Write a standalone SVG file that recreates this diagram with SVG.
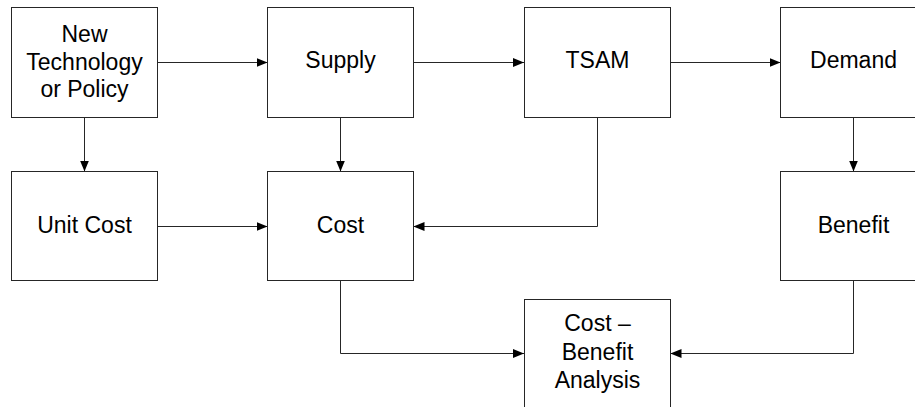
<svg xmlns="http://www.w3.org/2000/svg" width="915" height="407" viewBox="0 0 915 407">
  <defs>
    <marker id="arrow" viewBox="0 0 11 9" refX="11" refY="4.5" markerWidth="11" markerHeight="9" markerUnits="userSpaceOnUse" orient="auto">
      <path d="M0,0 L11,4.5 L0,9 Z" fill="#000"/>
    </marker>
    <style>
      .box { fill: #fff; stroke: #262626; stroke-width: 1; }
      .lbl { font-family: "Liberation Sans", Arial, sans-serif; font-size: 23px; fill: #000; text-anchor: middle; }
      .conn { fill: none; stroke: #262626; stroke-width: 1; marker-end: url(#arrow); }
    </style>
  </defs>
  <rect width="915" height="407" fill="#fff"/>

  <!-- connectors -->
  <g id="connectors">
    <path class="conn" d="M157.5,62.5 H267.5"/>
    <path class="conn" d="M413.5,62.5 H524"/>
    <path class="conn" d="M670.5,62.5 H780.5"/>
    <path class="conn" d="M84.5,117.5 V171.5"/>
    <path class="conn" d="M340.5,117.5 V171.5"/>
    <path class="conn" d="M853.5,117.5 V171.5"/>
    <path class="conn" d="M157.5,226.5 H267.5"/>
    <path class="conn" d="M597.5,117.5 V226.5 H413.5"/>
    <path class="conn" d="M340.5,280.5 V353.5 H524"/>
    <path class="conn" d="M853.5,280.5 V353.5 H670.5"/>
  </g>

  <g id="new-technology">
    <rect class="box" x="11.5" y="7.5" width="146" height="110"/>
    <text class="lbl" x="84.5" y="42">New</text>
    <text class="lbl" x="84.5" y="69.5">Technology</text>
    <text class="lbl" x="84.5" y="97">or Policy</text>
  </g>
  <g id="supply">
    <rect class="box" x="267.5" y="7.5" width="146" height="110"/>
    <text class="lbl" x="340.5" y="68">Supply</text>
  </g>
  <g id="tsam">
    <rect class="box" x="524.5" y="7.5" width="146" height="110"/>
    <text class="lbl" x="597.5" y="68">TSAM</text>
  </g>
  <g id="demand">
    <rect class="box" x="780.5" y="7.5" width="146" height="110"/>
    <text class="lbl" x="853.5" y="68">Demand</text>
  </g>
  <g id="unit-cost">
    <rect class="box" x="11.5" y="171.5" width="146" height="109"/>
    <text class="lbl" x="84.5" y="232.5">Unit Cost</text>
  </g>
  <g id="cost">
    <rect class="box" x="267.5" y="171.5" width="146" height="109"/>
    <text class="lbl" x="340.5" y="232.5">Cost</text>
  </g>
  <g id="benefit">
    <rect class="box" x="780.5" y="171.5" width="146" height="109"/>
    <text class="lbl" x="853.5" y="232.5">Benefit</text>
  </g>
  <g id="cost-benefit-analysis">
    <rect class="box" x="524.5" y="299.5" width="146" height="110"/>
    <text class="lbl" x="597.5" y="331">Cost –</text>
    <text class="lbl" x="597.5" y="359.5">Benefit</text>
    <text class="lbl" x="597.5" y="388">Analysis</text>
  </g>
</svg>
